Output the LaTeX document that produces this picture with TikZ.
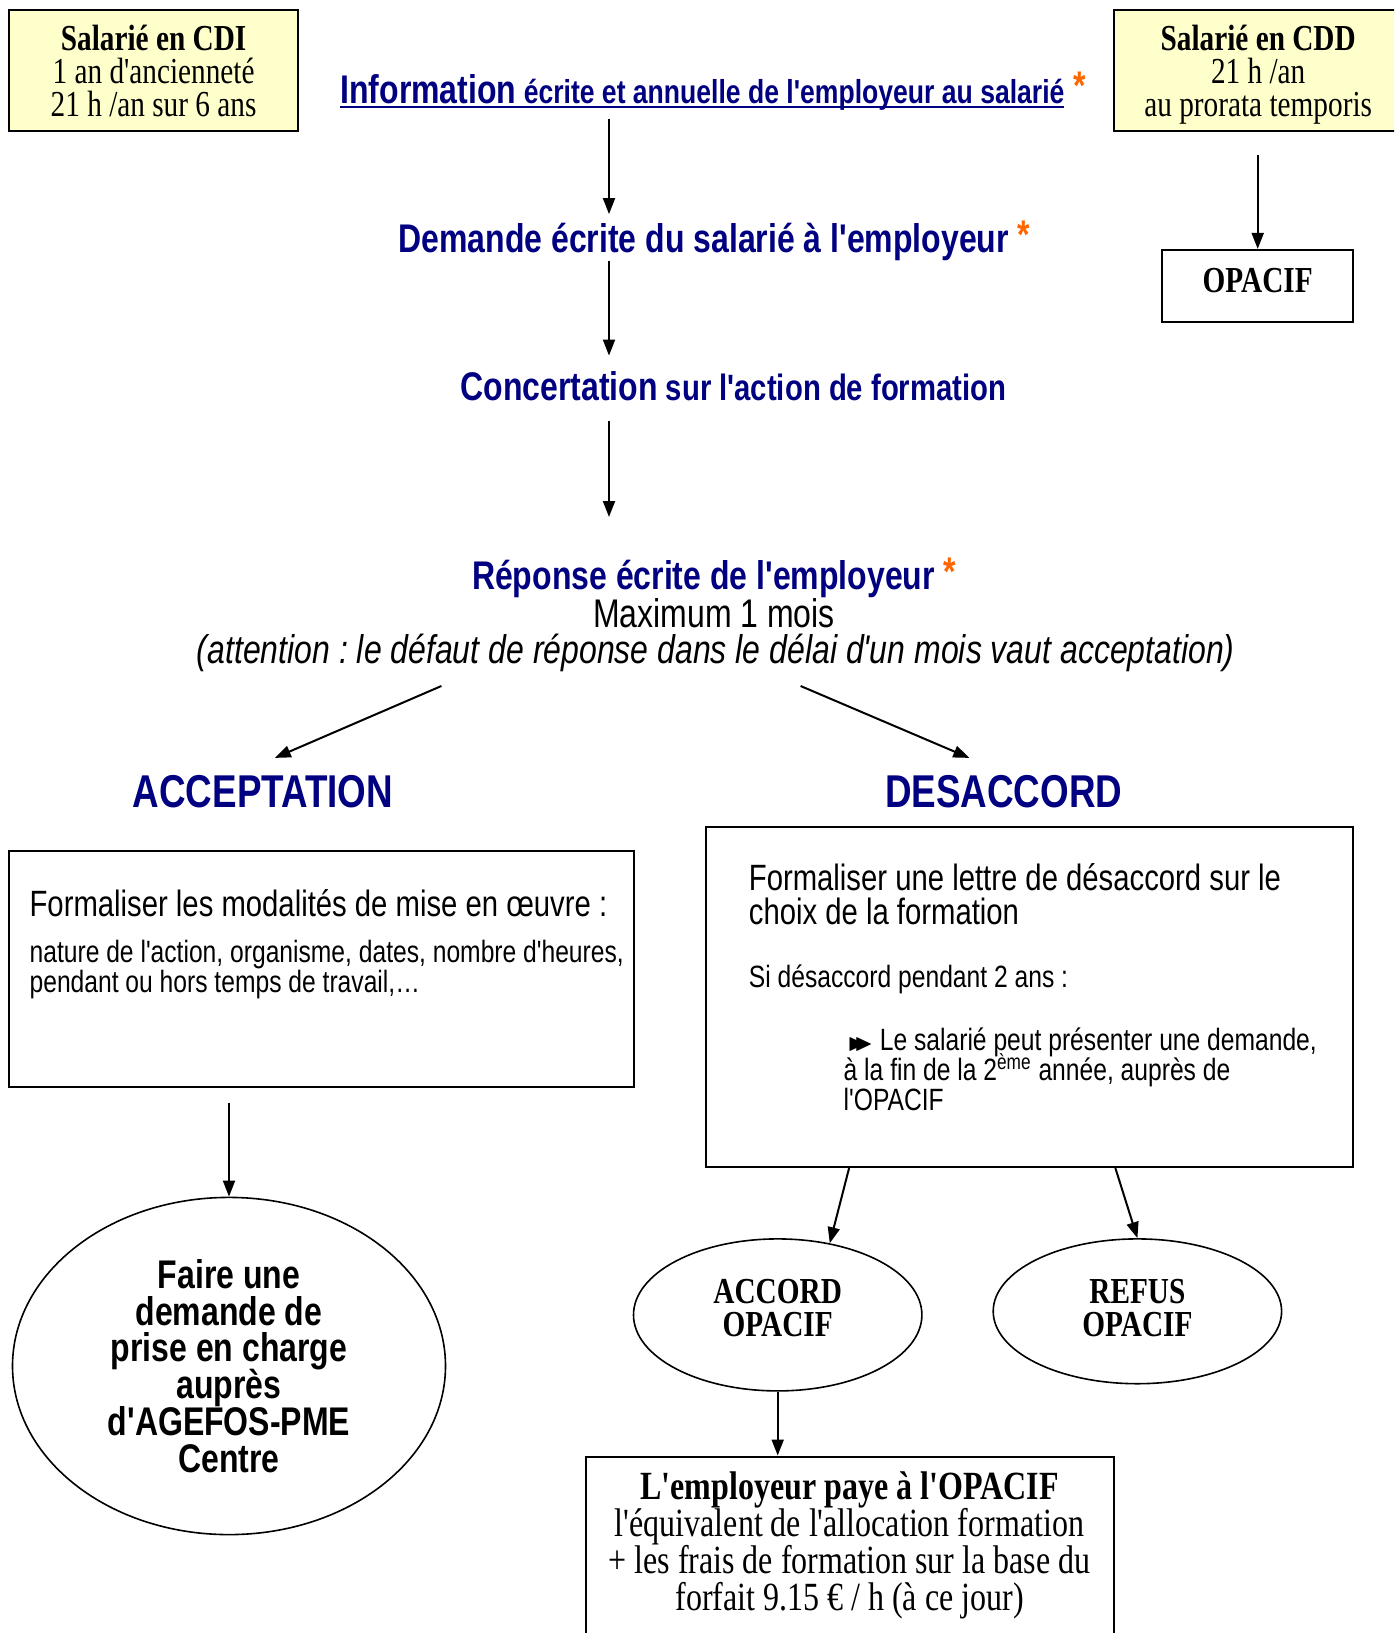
\documentclass[tikz,border=0pt]{standalone}
\usepackage{amssymb}
\usepackage{fontspec}
\setmainfont[FakeStretch=0.8,Ligatures=TeXOff]{Liberation Serif}
\setsansfont[FakeStretch=0.8,Ligatures=TeXOff]{Liberation Sans}
\usetikzlibrary{arrows.meta,shapes.geometric,calc}
\definecolor{navy}{RGB}{0,0,128}
\definecolor{starorange}{RGB}{255,102,0}
\definecolor{paleyellow}{RGB}{255,255,204}
\newcommand{\fs}[2]{\fontsize{#1}{#2}\selectfont\lineskiplimit=-100pt\relax}
\newcommand{\etoile}{~\raisebox{1.8pt}{\fs{20}{24}\textcolor{starorange}{*}}}
\newcommand{\souligne}[1]{\setbox0\hbox{#1}\rlap{\rule[-2.5pt]{\wd0}{1pt}}\box0}

\begin{document}
\frenchspacing
\begin{tikzpicture}[x=0.5pt,y=-0.5pt,>={Triangle[length=8pt,width=6pt]},
  box/.style={draw,line width=1pt,inner sep=0pt},
  yelbox/.style={box,fill=paleyellow,minimum width=144.2pt,minimum height=60.4pt,text depth=-0.8pt,align=center,font=\rmfamily\fs{18.3}{16.65}},
  oval/.style={draw,ellipse,line width=0.8pt,inner sep=0pt,align=center,font=\rmfamily\bfseries\fs{18.3}{16.65}},
  flowtxt/.style={inner sep=0pt,text height=15pt,text depth=5pt,anchor=base west,text=navy,font=\sffamily\bfseries\fs{20}{24}},
  bigtitle/.style={inner sep=0pt,anchor=base,text=navy,font=\sffamily\bfseries\fs{23}{28}},
  arr/.style={->,line width=1pt}]

  \useasboundingbox (0,0) rectangle (1394,1633);
  \clip (0,0) rectangle (1394,1633);

  % contrats
  \node[yelbox] (cdi) at (153.6,70.8) {\textbf{Salarié en CDI}\\1 an d'ancienneté\\21 h /an sur 6 ans};
  \node[yelbox] (cdd) at (1258.2,70.8) {\textbf{Salarié en CDD}\\21 h /an\\au prorata temporis};
  \node[box,minimum width=95.7pt,minimum height=35.9pt,text depth=5.2pt,font=\rmfamily\bfseries\fs{18.3}{20}] (opacif) at (1257.7,285.8) {OPACIF};

  % etapes
  \node[flowtxt] (info) at (340,103) {\souligne{Information{\fs{16.6}{20} écrite et annuelle de l'employeur au salarié}}\etoile};
  \node[flowtxt] (demande) at (398,252) {Demande écrite du salarié à l'employeur\etoile};
  \node[flowtxt] (concert) at (460,400.7) {Concertation{\fs{18.3}{22} sur l'action de formation}};
  \node[flowtxt,text depth=0pt] (reponse) at (471.6,589) {Réponse écrite de l'employeur\etoile};
  \node[inner sep=0pt,anchor=base,font=\sffamily\fs{20}{24}] (maxi) at (714,627.6) {Maximum 1 mois};
  \node[inner sep=0pt,anchor=base,text depth=5pt,font=\sffamily\itshape\fs{20}{24}] (attn) at (715.8,663)
    {(attention : le défaut de réponse dans le délai d'un mois vaut acceptation)};

  \node[bigtitle] (accept) at (263,807) {ACCEPTATION};
  \node[bigtitle] (desacc) at (1003.6,807) {DESACCORD};

  % acceptation
  \node[box,minimum width=312.3pt,minimum height=118.2pt] (accbox) at (321.7,968.75) {};
  \node[anchor=base west,inner sep=0pt,font=\sffamily\fs{18.3}{20}] (accmod) at (29.2,916) {Formaliser les modalités de mise en œuvre :};
  \node[anchor=base west,inner sep=0pt,align=left,font=\sffamily\fs{15.4}{15}] (accdet) at (29.2,992)
    {nature de l'action, organisme, dates, nombre d'heures,\\pendant ou hors temps de travail,…};
  \node[oval,minimum width=216.5pt,minimum height=168.6pt,font=\sffamily\bfseries\fs{20}{18.43}] (agefos) at (229,1366)
    {Faire une\\demande de\\prise en charge\\auprès\\d'AGEFOS-PME\\Centre};

  % desaccord
  \node[box,minimum width=323.75pt,minimum height=170.25pt] (desbox) at (1029.65,996.85) {};
  \node[anchor=base west,inner sep=0pt,align=left,font=\sffamily\fs{18.3}{16.75}] (deslettre) at (748.5,924.4)
    {Formaliser une lettre de désaccord sur le\\choix de la formation};
  \node[anchor=base west,inner sep=0pt,font=\sffamily\fs{15.4}{15}] (desdeux) at (748.5,987) {Si désaccord pendant 2 ans :};
  \node[anchor=base west,inner sep=0pt,align=left,font=\sffamily\fs{15.4}{15}] (desdemande) at (843.3,1110)
    {\hspace*{2pt}{\fs{12}{14}$\blacktriangleright\!\!\!\blacktriangleright$} Le salarié peut présenter une demande,\\à la fin de la 2\textsuperscript{ème} année, auprès de\\l'OPACIF};
  \node[oval,minimum width=144.2pt,minimum height=76pt,text depth=7.3pt] (accord) at (777.7,1314.9) {ACCORD\\OPACIF};
  \node[oval,minimum width=144.2pt,minimum height=72.4pt,text depth=3.6pt] (refus) at (1137.4,1311.3) {REFUS\\OPACIF};

  \node[box,minimum width=264pt,minimum height=120pt,anchor=north] (paybox) at (850,1455.5) {};
  \node[align=center,inner sep=0pt,font=\rmfamily\fs{20}{18.55}] (paytxt) at (849.5,1545)
    {\textbf{L'employeur paye à l'OPACIF}\\l'équivalent de l'allocation formation\\+ les frais de formation sur la base du\\forfait 9.15 € / h (à ce jour)};

  % fleches
  \coordinate (spine) at (609,0);
  \draw[arr,shorten <=2.85pt,shorten >=3.75pt] (info.south -| spine) -- (demande.north -| spine);
  \draw[arr,shorten <=-0.85pt,shorten >=7.35pt] (demande.south -| spine) -- (concert.north -| spine);
  \draw[arr,shorten <=4.95pt,shorten >=20.8pt] (concert.south -| spine) -- (reponse.north -| spine);
  \draw[arr,shorten <=11.4pt] (opacif.north |- cdd.south) -- (opacif.north);

  \coordinate (versacc) at (441.4,686);
  \coordinate (accfin) at (274.8,757.9);
  \coordinate (versdes) at (800.6,686);
  \coordinate (desfin) at (969.3,757.9);
  \draw[arr] (versacc) -- (accfin);
  \draw[arr] (versdes) -- (desfin);

  \draw[arr,shorten <=7.3pt] (agefos.north |- accbox.south) -- (agefos.north);
  \draw[arr] ($(desbox.south west)!0.222!(desbox.south east)$) -- (accord.54);
  \draw[arr] ($(desbox.south west)!0.632!(desbox.south east)$) -- (refus.north);
  \draw[arr] (accord.south) -- (accord.south |- paybox.north);
\end{tikzpicture}
\end{document}
